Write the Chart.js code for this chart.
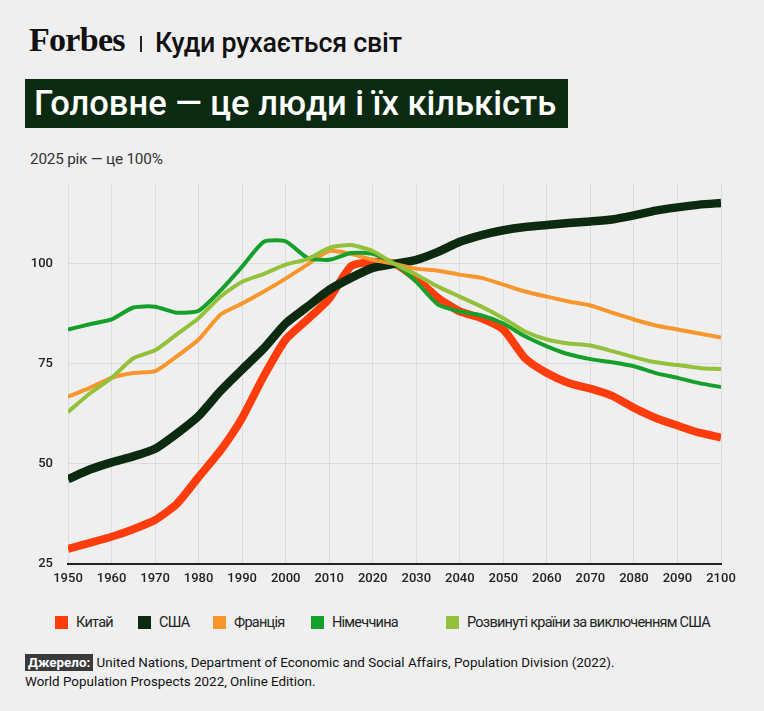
<!DOCTYPE html>
<html lang="uk">
<head>
<meta charset="utf-8">
<script src="https://cdn.jsdelivr.net/npm/chart.js@4.4.1/dist/chart.umd.min.js"></script>
<style>
  html, body { margin: 0; padding: 0; background: #efefef; }
  body { width: 764px; height: 711px; position: relative; overflow: hidden; font-family: Roboto, "Noto Sans", sans-serif; color: #111; }
  .logo { position: absolute; left: 29px; top: 21px; font-family: "Liberation Serif", "DejaVu Serif", serif; font-weight: bold; font-size: 34px; letter-spacing: -0.7px; }
  .sep { position: absolute; left: 140px; top: 36px; width: 2px; height: 16px; background: #222; }
  .rubric { position: absolute; left: 155px; top: 27px; font-size: 26.8px; font-weight: 500; letter-spacing: -0.2px; }
  .title { position: absolute; left: 25px; top: 79px; width: 543px; height: 49px; background: #0c2a12; color: #fff; font-size: 34.5px; font-weight: 500; line-height: 49px; padding-left: 9px; box-sizing: border-box; white-space: nowrap; }
  .sub { position: absolute; left: 30px; top: 150px; font-size: 15.3px; color: #333; letter-spacing: -0.2px; }
  #wrap { position: absolute; left: 0; top: 161px; width: 764px; height: 433px; }
  .legend { position: absolute; left: 0; top: 614px; width: 764px; height: 20px; font-size: 14.5px; color: #222; white-space: nowrap; letter-spacing: -0.75px; }
  .legend span.item { position: absolute; top: 0; }
  .legend i { display: inline-block; width: 13px; height: 13px; vertical-align: -2px; margin-right: 8px; }
  .src { position: absolute; left: 25px; top: 653px; font-size: 13.4px; line-height: 19px; color: #111; }
  .src b { background: #3a3a3a; color: #fff; padding: 1px 3px; font-weight: bold; }
</style>
</head>
<body>
<div class="logo">Forbes</div>
<div class="sep"></div>
<div class="rubric">Куди рухається світ</div>
<div class="title">Головне — це люди і їх кількість</div>
<div class="sub">2025 рік — це 100%</div>
<div id="wrap"><canvas id="chart"></canvas></div>
<div class="legend" id="legend"></div>
<div class="src"><b>Джерело:</b> United Nations, Department of Economic and Social Affairs, Population Division (2022).<br>World Population Prospects 2022, Online Edition.</div>
<script>
// роки, крок 5
const years = [1950, 1955, 1960, 1965, 1970, 1975, 1980, 1985, 1990, 1995, 2000, 2005, 2010, 2015, 2020, 2025,
  2030, 2035, 2040, 2045, 2050, 2055, 2060, 2065, 2070, 2075, 2080, 2085, 2090, 2095, 2100];

const china = [28.8, 30.3, 31.8, 33.7, 36.0, 40.0, 46.7, 53.3, 61.5, 72.0, 81.1, 86.1, 91.3, 99.4, 100.5, 100,
  96.3, 91.5, 88.1, 86.4, 83.6, 76.4, 72.7, 70.2, 68.8, 67.0, 64.0, 61.5, 59.6, 57.8, 56.6];
const usa = [46.2, 48.6, 50.4, 51.9, 53.8, 57.6, 62.0, 68.2, 73.6, 78.9, 85.1, 89.3, 93.5, 96.5, 99.0, 100,
  101.0, 103.0, 105.5, 107.2, 108.4, 109.2, 109.7, 110.2, 110.6, 111.1, 112.1, 113.3, 114.1, 114.8, 115.2];
const france = [66.8, 69.0, 71.5, 72.7, 73.2, 76.9, 81.1, 87.3, 90.1, 93.1, 96.3, 99.8, 103.2, 102.5, 101.0, 100,
  98.8, 98.3, 97.3, 96.5, 94.8, 93.1, 91.8, 90.6, 89.6, 87.8, 86.1, 84.6, 83.6, 82.6, 81.6];
const germany = [83.6, 84.9, 86.1, 89.1, 89.3, 87.8, 88.3, 93.3, 99.3, 105.5, 105.6, 101.5, 101.0, 102.7, 102.5, 100,
  95.5, 89.8, 88.1, 87.1, 85.1, 81.9, 79.4, 77.4, 76.2, 75.4, 74.4, 72.7, 71.5, 70.2, 69.2];
const developed = [63.0, 67.6, 71.5, 76.4, 78.4, 82.4, 86.4, 91.8, 95.5, 97.5, 99.8, 101.2, 104.0, 104.7, 103.2, 100,
  97.3, 94.3, 91.8, 89.3, 86.4, 83.1, 81.1, 80.1, 79.6, 78.2, 76.7, 75.4, 74.7, 74.0, 73.7];

const seriesNames = ['Китай', 'США', 'Франція', 'Німеччина', 'Розвинуті країни за виключенням США'];
const seriesValues = [china, usa, france, germany, developed];

const yTicks = [25, 50, 75, 100];

// оформлення
const seriesColors = ['#ff3c0c', '#0b2a10', '#f7962d', '#15a02b', '#94c13b'];
const seriesWidths = [8, 8.5, 4, 4, 4];
const seriesOrder = [5, 4, 3, 2, 1];
const legendLeft = [55, 138, 213, 311, 446];

const datasets = seriesNames.map((name, i) => ({
  label: name,
  data: years.map((y, j) => ({ x: y, y: seriesValues[i][j] })),
  borderColor: seriesColors[i],
  backgroundColor: seriesColors[i],
  borderWidth: seriesWidths[i],
  order: seriesOrder[i],
  pointRadius: 0,
  tension: 0.2,
  borderJoinStyle: 'round',
  fill: false
}));

// легенда
const legendEl = document.getElementById('legend');
seriesNames.forEach((name, i) => {
  const s = document.createElement('span');
  s.className = 'item';
  s.style.left = legendLeft[i] + 'px';
  s.innerHTML = '<i style="background:' + seriesColors[i] + '"></i>' + name;
  legendEl.appendChild(s);
});

const tickFont = { family: 'Roboto', size: 13, weight: '500' };

const ctx = document.getElementById('chart').getContext('2d');
new Chart(ctx, {
  type: 'line',
  data: { datasets },
  options: {
    responsive: true,
    maintainAspectRatio: false,
    animation: false,
    layout: { padding: { left: 0, right: 43, top: 3, bottom: 0 } },
    plugins: { legend: { display: false }, tooltip: { enabled: false } },
    scales: {
      x: {
        type: 'linear',
        min: 1950,
        max: 2100,
        grid: { color: '#dcdcdc', lineWidth: 1, drawTicks: false },
        border: { display: true, color: '#222', width: 2 },
        ticks: { stepSize: 10, padding: 7, color: '#222', font: tickFont, callback: v => String(v) },
        afterFit: s => { s.height = 30; }
      },
      y: {
        min: 25,
        max: 120,
        grid: { color: '#dcdcdc', lineWidth: 1, drawTicks: false },
        border: { display: false },
        ticks: { stepSize: 25, padding: 15, color: '#222', font: tickFont },
        afterBuildTicks: s => { s.ticks = yTicks.map(v => ({ value: v })); },
        afterFit: s => { s.width = 68; }
      }
    }
  }
});
</script>
</body>
</html>
